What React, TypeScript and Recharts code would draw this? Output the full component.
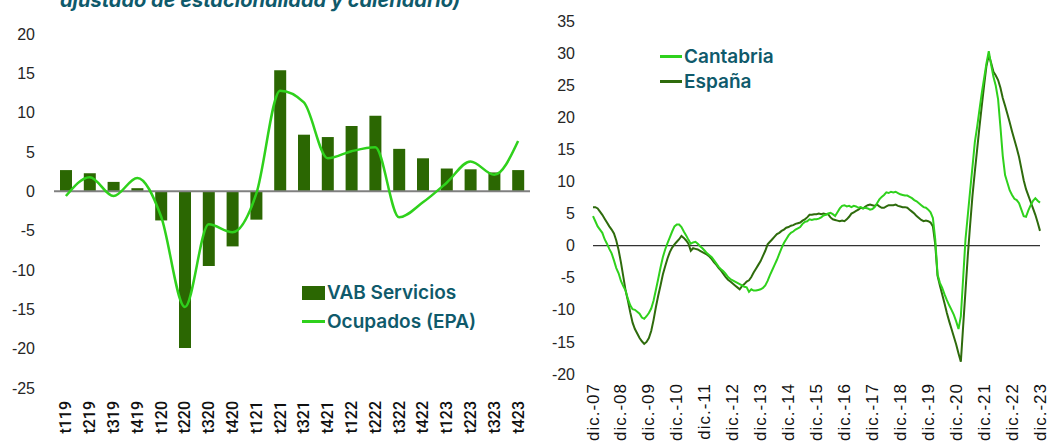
import React from 'react';
import { ComposedChart, LineChart, Bar, Line, XAxis, YAxis, ReferenceLine, Legend } from 'recharts';

// Left panel: quarterly % change
const quarters = [
  't119', 't219', 't319', 't419', 't120', 't220', 't320', 't420', 't121', 't221',
  't321', 't421', 't122', 't222', 't322', 't422', 't123', 't223', 't323', 't423',
];
const vabServicios = [
  2.7, 2.3, 1.2, 0.4, -3.7, -19.9, -9.5, -7.0, -3.6, 15.4,
  7.2, 6.9, 8.3, 9.6, 5.4, 4.2, 2.9, 2.8, 2.4, 2.7,
];
const ocupadosEpa = [
  -0.6, 1.8, -0.6, 1.7, -3.2, -14.7, -4.2, -5.2, -0.3, 12.8,
  11.3, 4.2, 5.1, 5.6, -3.3, -1.4, 1.1, 3.8, 2.1, 6.4,
];
const leftTicks = [20, 15, 10, 5, 0, -5, -10, -15, -20, -25];

// Right panel: monthly, dic.-07 .. dic.-23
const monthNames = ['dic.', 'ene.', 'feb.', 'mar.', 'abr.', 'may.', 'jun.', 'jul.', 'ago.', 'sep.', 'oct.', 'nov.'];
const cantabria = [
  4.6, 3.8, 3.0, 2.5, 2.0, 1.0, 0.3, -0.5, -1.2, -2.3, -3.5, -4.3,
  -5.5, -6.3, -7.0, -8.3, -9.3, -9.9, -10.0, -10.3, -10.6, -11.2, -11.4, -11.0,
  -10.5, -9.8, -8.6, -6.9, -5.2, -3.4, -1.8, -0.6, 0.4, 1.3, 2.2, 3.0,
  3.3, 3.3, 2.9, 2.2, 1.6, 0.9, 0.3, 0.5, 0.6, 0.3, -0.1, -0.4,
  -0.8, -1.2, -1.5, -1.8, -2.3, -2.8, -3.3, -3.7, -4.0, -4.4, -4.9, -5.2,
  -5.4, -5.6, -5.8, -6.0, -6.2, -6.4, -6.5, -7.2, -6.8, -7.0, -7.0, -6.9,
  -6.8, -6.6, -6.2, -5.5, -4.6, -3.8, -3.0, -2.2, -1.3, -0.4, 0.4, 1.0,
  1.6, 2.0, 2.2, 2.5, 2.7, 2.9, 3.4, 3.7, 3.8, 4.1, 4.0, 4.1,
  4.1, 4.2, 4.4, 4.7, 4.8, 5.0, 5.1, 4.9, 4.6, 5.2, 5.8, 6.2,
  6.3, 6.1, 6.2, 6.0, 6.2, 6.1, 5.9, 6.0, 5.8, 5.9, 5.8, 5.6,
  5.7, 6.0, 6.6, 7.2, 7.6, 7.9, 8.3, 8.2, 8.4, 8.3, 8.4, 8.2,
  8.0, 7.9, 7.8, 7.8, 7.6, 7.4, 7.1, 6.9, 6.6, 6.3, 6.0, 5.9,
  5.6, 5.2, 4.3, 1.0, -4.5, -5.8, -6.6, -7.6, -8.5, -9.3, -10.0, -10.8,
  -11.8, -13.0, -11.0, -5.0, 1.0, 4.8, 8.6, 12.3, 16.1, 18.5, 21.2, 23.8,
  26.1, 28.4, 30.3, 28.2, 26.3, 24.9, 22.8, 18.5, 14.0, 11.0, 9.8, 8.6,
  7.9, 7.3, 7.1, 6.6, 5.6, 4.6, 4.5, 5.5, 6.3, 7.0, 7.4, 7.0, 6.7,
];
const espana = [
  6.0, 6.0, 5.8, 5.3, 4.8, 4.2, 3.6, 3.0, 2.5, 1.9, 0.8, -0.7,
  -2.6, -4.8, -7.0, -8.6, -10.4, -12.0, -13.0, -13.7, -14.4, -14.9, -15.3, -15.0,
  -14.4, -13.3, -11.6, -9.6, -7.8, -6.2, -4.5, -3.2, -2.0, -1.0, -0.3, 0.2,
  0.6, 1.0, 1.5, 1.2, 0.8, 0.3, -0.8, -0.4, -0.5, -0.6, -0.8, -1.0,
  -1.2, -1.4, -1.7, -2.1, -2.6, -3.0, -3.5, -3.9, -4.4, -4.9, -5.3, -5.6,
  -5.9, -6.2, -6.5, -6.8, -6.3, -6.0, -5.6, -5.4, -4.9, -4.2, -3.6, -3.0,
  -2.4, -1.6, -0.8, 0.2, 0.6, 1.0, 1.4, 1.8, 2.0, 2.3, 2.5, 2.8,
  2.9, 3.1, 3.2, 3.4, 3.5, 3.6, 3.9, 4.1, 4.4, 4.8, 4.8, 4.9,
  4.9, 5.0, 4.9, 5.0, 4.9, 4.9, 4.4, 4.1, 4.0, 3.9, 3.8, 3.9,
  3.8, 4.1, 4.5, 5.0, 5.2, 5.4, 5.6, 5.9, 5.8, 6.1, 6.3, 6.4,
  6.3, 6.2, 6.4, 6.1, 5.9, 5.9, 6.1, 6.3, 6.3, 6.3, 6.4, 6.2,
  6.1, 6.0, 6.0, 5.9, 5.6, 5.3, 5.0, 4.6, 4.3, 4.0, 3.8, 3.9,
  3.8, 3.6, 3.0, 0.2, -4.7, -6.2, -7.6, -9.0, -10.5, -11.8, -13.0, -14.2,
  -15.4, -16.8, -18.1, -12.5, -7.0, -1.5, 3.3, 7.8, 11.5, 15.0, 18.5, 21.8,
  25.0, 28.0, 29.7, 28.5, 27.1, 26.5, 25.8, 24.6, 23.0, 21.8, 20.5, 19.2,
  17.8, 16.5, 15.2, 13.8, 12.0, 10.2, 8.8, 7.8, 6.8, 5.8, 4.8, 3.6, 2.3,
];
const rightTicks = [35, 30, 25, 20, 15, 10, 5, 0, -5, -10, -15, -20];

const barColor = '#2b6702';
const lightGreen = '#2fd11c';
const darkGreen = '#2e6b0c';
const teal = '#0f5a6b';

const leftData = quarters.map((q, i) => ({ name: q, vab: vabServicios[i], ocupados: ocupadosEpa[i] }));

const rightData = cantabria.map((v, i) => {
  const yr = 7 + Math.floor((i + 11) / 12);
  return { name: `${monthNames[i % 12]}-${String(yr).padStart(2, '0')}`, cantabria: v, espana: espana[i] };
});

const QuarterTick = (props: any) => {
  const { x, y, payload } = props;
  const ty = y + 13;
  return (
    <text x={x} y={ty} transform={`rotate(-90 ${x} ${ty})`} textAnchor="end" dominantBaseline="central"
      fontFamily="Roboto" fontWeight={500} fontSize={16} fill="#111">
      {payload.value}
    </text>
  );
};

const MonthTick = (props: any) => {
  const { x, y, payload } = props;
  const ty = y + 9;
  return (
    <text x={x} y={ty} transform={`rotate(-90 ${x} ${ty})`} textAnchor="end" dominantBaseline="central"
      fontFamily="Liberation Sans" fontSize={17} letterSpacing={1} fill="#111">
      {payload.value}
    </text>
  );
};

const legendText = { fontFamily: 'Inter', fontWeight: 600, fontSize: 19, color: teal, lineHeight: '29px' };

const LeftLegend = () => (
  <div style={legendText}>
    <div style={{ display: 'flex', alignItems: 'center' }}>
      <span style={{ width: 23, height: 14, background: barColor, marginRight: 2 }} />VAB Servicios
    </div>
    <div style={{ display: 'flex', alignItems: 'center' }}>
      <span style={{ width: 23, height: 3, background: lightGreen, marginRight: 2 }} />Ocupados (EPA)
    </div>
  </div>
);

const RightLegend = () => (
  <div style={{ ...legendText, lineHeight: '25px' }}>
    <div style={{ display: 'flex', alignItems: 'center' }}>
      <span style={{ width: 22, height: 2.5, background: lightGreen, marginRight: 2 }} />Cantabria
    </div>
    <div style={{ display: 'flex', alignItems: 'center' }}>
      <span style={{ width: 22, height: 2.5, background: darkGreen, marginRight: 2 }} />España
    </div>
  </div>
);

const yTick = { fontFamily: 'Liberation Sans', fontSize: 16, fill: '#262626' };

export default function App() {
  return (
    <div style={{ position: 'absolute', left: 0, top: 0, width: 1048, height: 441, background: '#fff', overflow: 'hidden' }}>
      <div style={{ position: 'absolute', left: 60, top: -12, fontFamily: 'Inter', fontStyle: 'italic', fontWeight: 700, fontSize: 20, color: teal, whiteSpace: 'nowrap' }}>
        ajustado de estacionalidad y calendario)
      </div>

      <div style={{ position: 'absolute', left: 0, top: 0 }}>
        <ComposedChart width={540} height={441} data={leftData} margin={{ top: 34, right: 10, bottom: 0, left: 0 }}>
          <XAxis dataKey="name" axisLine={false} tickLine={false} tickSize={0} tickMargin={0} height={53} interval={0} tick={<QuarterTick />} />
          <YAxis domain={[-25, 20]} ticks={leftTicks} width={54} axisLine={false} tickLine={false} tickSize={0} tickMargin={19} tick={yTick} interval={0} />
          <Bar dataKey="vab" fill={barColor} barSize={12} isAnimationActive={false} />
          <ReferenceLine y={0} stroke="#808080" strokeWidth={2} />
          <Line type="monotone" dataKey="ocupados" stroke={lightGreen} strokeWidth={2.5} dot={false} isAnimationActive={false} />
          <Legend content={<LeftLegend />} layout="vertical" align="center" verticalAlign="middle" wrapperStyle={{ left: 302, top: 278, width: 'auto' }} />
        </ComposedChart>
      </div>

      <div style={{ position: 'absolute', left: 540, top: 0 }}>
        <LineChart width={508} height={441} data={rightData} margin={{ top: 21, right: 8, bottom: 0, left: 0 }}>
          <XAxis dataKey="name" axisLine={false} tickLine={false} tickSize={0} tickMargin={0} height={67} interval={11} tick={<MonthTick />} />
          <YAxis domain={[-20, 35]} ticks={rightTicks} width={53} axisLine={false} tickLine={false} tickSize={0} tickMargin={18} tick={yTick} interval={0} />
          <ReferenceLine y={0} stroke="#333333" strokeWidth={1.2} />
          <Line type="linear" dataKey="espana" stroke={darkGreen} strokeWidth={2} dot={false} isAnimationActive={false} />
          <Line type="linear" dataKey="cantabria" stroke={lightGreen} strokeWidth={2} dot={false} isAnimationActive={false} />
          <Legend content={<RightLegend />} layout="vertical" align="center" verticalAlign="middle" wrapperStyle={{ left: 120, top: 44, width: 'auto' }} />
        </LineChart>
      </div>
    </div>
  );
}
